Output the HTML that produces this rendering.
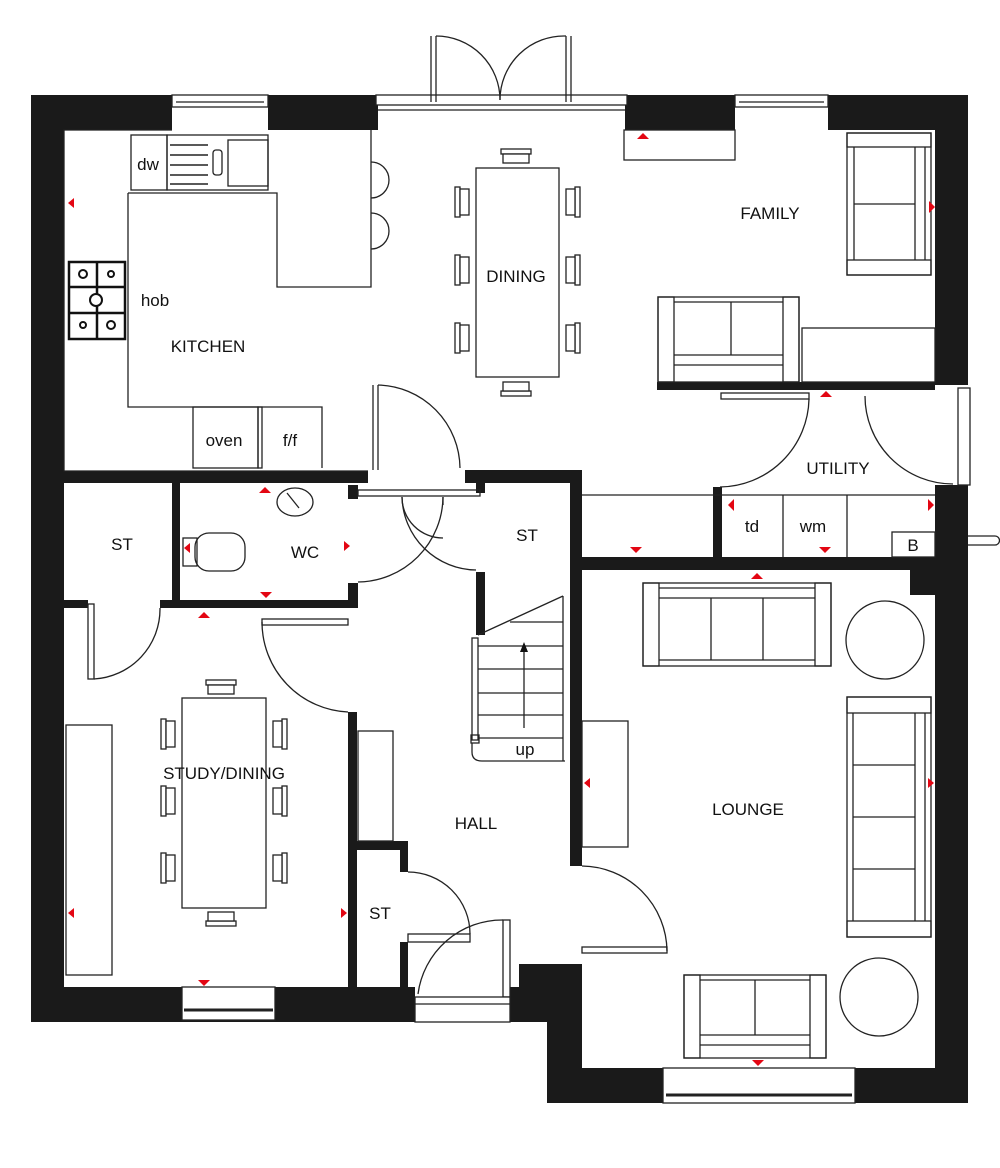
<!DOCTYPE html>
<html><head><meta charset="utf-8"><style>
html,body{margin:0;padding:0;background:#fff}
svg{display:block}
text{font-family:"Liberation Sans",Arial,sans-serif;fill:#111}
</style></head><body>
<svg width="1000" height="1168" viewBox="0 0 1000 1168" xmlns="http://www.w3.org/2000/svg">
<defs>
<g id="chV"><rect x="0" y="0" width="5" height="30" fill="#fff" stroke="#222" stroke-width="1.3"/><rect x="5" y="2" width="9" height="26" fill="#fff" stroke="#222" stroke-width="1.3"/></g>
<g id="chH"><rect x="0" y="0" width="30" height="5" fill="#fff" stroke="#222" stroke-width="1.3"/><rect x="2" y="5" width="26" height="9" fill="#fff" stroke="#222" stroke-width="1.3"/></g>
</defs>
<g fill="#1a1a1a">
<rect x="31" y="95" width="33" height="927"/>
<rect x="31" y="95" width="141" height="35"/>
<rect x="268" y="95" width="110" height="35"/>
<rect x="625" y="95" width="110" height="35"/>
<rect x="828" y="95" width="140" height="35"/>
<rect x="935" y="95" width="33" height="290"/>
<rect x="935" y="485" width="33" height="618"/>
<rect x="910" y="570" width="25" height="25"/>
<rect x="31" y="987" width="384" height="35"/>
<rect x="510" y="987" width="40" height="35"/>
<rect x="519" y="964" width="61" height="58"/>
<rect x="547" y="964" width="35" height="139"/>
<rect x="547" y="1068" width="421" height="35"/>
<rect x="64" y="471" width="304" height="12"/>
<rect x="465" y="470" width="117" height="13"/>
<rect x="570" y="470" width="12" height="396"/>
<rect x="582" y="557" width="353" height="13"/>
<rect x="657" y="382" width="278" height="8"/>
<rect x="713" y="487" width="9" height="72"/>
<rect x="172" y="483" width="8" height="124"/>
<rect x="64" y="600" width="24" height="8"/>
<rect x="160" y="600" width="198" height="8"/>
<rect x="348" y="583" width="10" height="25"/>
<rect x="348" y="485" width="10" height="14"/>
<rect x="476" y="483" width="9" height="10"/>
<rect x="476" y="572" width="9" height="63"/>
<rect x="348" y="712" width="9" height="275"/>
<rect x="357" y="841" width="51" height="9"/>
<rect x="400" y="841" width="8" height="31"/>
<rect x="400" y="942" width="8" height="45"/>
</g>
<g fill="none" stroke="#222" stroke-width="1.3">
<rect x="172" y="95" width="96" height="12" fill="#fff"/><line x1="176" y1="102" x2="264" y2="102"/>
<rect x="735" y="95" width="93" height="12" fill="#fff"/><line x1="739" y1="102" x2="824" y2="102"/>
<rect x="182" y="987" width="93" height="33" fill="#fff"/><line x1="184" y1="1010" x2="273" y2="1010" stroke-width="3"/>
<rect x="663" y="1068" width="192" height="35" fill="#fff"/><line x1="666" y1="1095" x2="852" y2="1095" stroke-width="3"/>
<rect x="958" y="388" width="12" height="97" fill="#fff"/>
<rect x="376" y="95" width="251" height="10" fill="#fff"/>
<line x1="378" y1="110" x2="625" y2="110"/>
<line x1="431" y1="36" x2="431" y2="102"/><line x1="436" y1="36" x2="436" y2="102"/>
<line x1="566" y1="36" x2="566" y2="102"/><line x1="571" y1="36" x2="571" y2="102"/>
<path d="M436,36 A64,64 0 0 1 500,100"/><path d="M566,36 A64,64 0 0 0 500,100"/>
<path d="M172,130 L64,130 L64,471 L368,471"/>
<rect x="131" y="135" width="36" height="55"/>
<rect x="167" y="135" width="101" height="55"/>
<rect x="228" y="140" width="40" height="46"/>
<g stroke-width="1.5"><line x1="170" y1="145" x2="208" y2="145"/><line x1="170" y1="155" x2="208" y2="155"/><line x1="170" y1="165" x2="208" y2="165"/><line x1="170" y1="175" x2="208" y2="175"/><line x1="170" y1="184" x2="208" y2="184"/></g>
<rect x="213" y="150" width="9" height="25" rx="3"/>
<path d="M128,193 L277,193 L277,287 L371,287 L371,130"/>
<path d="M128,193 L128,407 L322,407 L322,468"/>
<rect x="193" y="407" width="65" height="61"/><rect x="258" y="407" width="4" height="61"/>
<path d="M371,162 A18,18 0 0 1 371,198"/><path d="M371,213 A18,18 0 0 1 371,249"/>
<g stroke="#111" stroke-width="2.5"><rect x="69" y="262" width="56" height="77"/><line x1="97" y1="262" x2="97" y2="339"/><line x1="69" y1="287" x2="125" y2="287"/><line x1="69" y1="313" x2="125" y2="313"/></g>
<g stroke="#111" stroke-width="2" fill="#fff"><circle cx="83" cy="274" r="4"/><circle cx="111" cy="274" r="3"/><circle cx="96" cy="300" r="6"/><circle cx="83" cy="325" r="3"/><circle cx="111" cy="325" r="4"/></g>
<line x1="373" y1="385" x2="373" y2="470"/><line x1="378" y1="385" x2="378" y2="470"/>
<path d="M378,385 A84,84 0 0 1 460,468"/>
<rect x="358" y="490" width="122" height="6"/>
<rect x="476" y="168" width="83" height="209" fill="#fff"/>
<use href="#chH" x="501" y="149"/>
<use href="#chH" x="501" y="149" transform="translate(0,545) scale(1,-1)"/>
<use href="#chV" x="455" y="187"/><use href="#chV" x="455" y="255"/><use href="#chV" x="455" y="323"/>
<g transform="translate(1035,0) scale(-1,1)"><use href="#chV" x="455" y="187"/><use href="#chV" x="455" y="255"/><use href="#chV" x="455" y="323"/></g>
<rect x="624" y="130" width="111" height="30"/>
<rect x="847" y="133" width="84" height="142"/>
<rect x="847" y="133" width="84" height="14"/><rect x="847" y="260" width="84" height="15"/>
<line x1="854" y1="147" x2="854" y2="260"/><line x1="915" y1="147" x2="915" y2="260"/><line x1="854" y1="204" x2="915" y2="204"/>
<line x1="925" y1="147" x2="925" y2="260"/>
<rect x="658" y="297" width="141" height="85"/>
<rect x="658" y="297" width="16" height="85"/><rect x="783" y="297" width="16" height="85"/>
<line x1="674" y1="302" x2="783" y2="302"/><line x1="731" y1="302" x2="731" y2="355"/>
<line x1="674" y1="355" x2="783" y2="355"/><line x1="674" y1="365" x2="783" y2="365"/>
<rect x="802" y="328" width="133" height="54"/>
<rect x="721" y="393" width="88" height="6"/>
<path d="M809,399 A90,90 0 0 1 720,487"/>
<path d="M865,396 A88,88 0 0 0 953,484"/>
<line x1="582" y1="495" x2="935" y2="495"/>
<line x1="783" y1="495" x2="783" y2="557"/><line x1="847" y1="495" x2="847" y2="557"/>
<rect x="892" y="532" width="43" height="25"/>
<path d="M968,536 L995,536 A4,4 0 0 1 995,545 L968,545"/>
<path d="M402,497 A41,41 0 0 0 443,538 M443,497 L443,505"/>
<path d="M443,497 A86,86 0 0 1 358,582"/>
<path d="M402,497 A75,75 0 0 0 476,570"/>
<rect x="195" y="533" width="50" height="38" rx="14"/><rect x="183" y="538" width="14" height="28"/>
<ellipse cx="295" cy="502" rx="18" ry="14"/><line x1="287" y1="493" x2="299" y2="508"/>
<rect x="88" y="604" width="6" height="75"/>
<path d="M94,679 A70,70 0 0 0 160,608"/>
<rect x="262" y="619" width="86" height="6"/>
<path d="M262,622 A90,90 0 0 0 348,712"/>
<rect x="66" y="725" width="46" height="250"/>
<rect x="182" y="698" width="84" height="210" fill="#fff"/>
<use href="#chH" x="206" y="680"/>
<g transform="translate(0,1606) scale(1,-1)"><use href="#chH" x="206" y="680"/></g>
<use href="#chV" x="161" y="719"/><use href="#chV" x="161" y="786"/><use href="#chV" x="161" y="853"/>
<g transform="translate(448,0) scale(-1,1)"><use href="#chV" x="161" y="719"/><use href="#chV" x="161" y="786"/><use href="#chV" x="161" y="853"/></g>
<rect x="358" y="731" width="35" height="110"/>
<path d="M408,872 A62,62 0 0 1 470,934"/>
<rect x="408" y="934" width="62" height="8"/>
<rect x="503" y="920" width="7" height="77"/>
<path d="M418,994 A85,85 0 0 1 503,920"/>
<rect x="415" y="997" width="95" height="25" fill="#fff"/><line x1="415" y1="1004" x2="510" y2="1004"/>
<rect x="472" y="638" width="6" height="102"/>
<rect x="471" y="735" width="8" height="8"/>
<line x1="478" y1="635" x2="563" y2="596"/>
<g><line x1="510" y1="622" x2="563" y2="622"/><line x1="478" y1="646" x2="563" y2="646"/><line x1="478" y1="669" x2="563" y2="669"/><line x1="478" y1="693" x2="563" y2="693"/><line x1="478" y1="715" x2="563" y2="715"/><line x1="478" y1="738" x2="563" y2="738"/></g>
<path d="M472,743 L472,752 Q472,761 482,761 L565,761"/>
<line x1="563" y1="596" x2="563" y2="761"/>
<line x1="524" y1="728" x2="524" y2="650"/>
<path d="M582,866 A86,86 0 0 1 667,951"/>
<rect x="582" y="947" width="85" height="6"/>
<rect x="582" y="721" width="46" height="126"/>
<rect x="643" y="583" width="188" height="83"/>
<rect x="643" y="583" width="16" height="83"/><rect x="815" y="583" width="16" height="83"/>
<line x1="659" y1="588" x2="815" y2="588"/><line x1="659" y1="598" x2="815" y2="598"/><line x1="659" y1="660" x2="815" y2="660"/>
<line x1="711" y1="598" x2="711" y2="660"/><line x1="763" y1="598" x2="763" y2="660"/>
<circle cx="885" cy="640" r="39"/><circle cx="879" cy="997" r="39"/>
<rect x="847" y="697" width="84" height="240"/>
<rect x="847" y="697" width="84" height="16"/><rect x="847" y="921" width="84" height="16"/>
<line x1="853" y1="713" x2="853" y2="921"/><line x1="915" y1="713" x2="915" y2="921"/><line x1="925" y1="713" x2="925" y2="921"/>
<line x1="853" y1="765" x2="915" y2="765"/><line x1="853" y1="817" x2="915" y2="817"/><line x1="853" y1="869" x2="915" y2="869"/>
<rect x="684" y="975" width="142" height="83"/>
<rect x="684" y="975" width="16" height="83"/><rect x="810" y="975" width="16" height="83"/>
<line x1="700" y1="980" x2="810" y2="980"/><line x1="755" y1="980" x2="755" y2="1035"/>
<line x1="700" y1="1035" x2="810" y2="1035"/><line x1="700" y1="1045" x2="810" y2="1045"/>
</g>
<polygon points="524,642 520,652 528,652" fill="#111"/>
<g fill="#e30613">
<polygon points="68,203 74,198 74,208"/>
<polygon points="643,133 637,139 649,139"/>
<polygon points="935,207 929,201 929,213"/>
<polygon points="826,391 820,397 832,397"/>
<polygon points="728,505 734,499 734,511"/>
<polygon points="934,505 928,499 928,511"/>
<polygon points="636,553 630,547 642,547"/>
<polygon points="825,553 819,547 831,547"/>
<polygon points="757,573 751,579 763,579"/>
<polygon points="265,487 259,493 271,493"/>
<polygon points="184,548 190,543 190,553"/>
<polygon points="350,546 344,541 344,551"/>
<polygon points="266,598 260,592 272,592"/>
<polygon points="204,612 198,618 210,618"/>
<polygon points="584,783 590,778 590,788"/>
<polygon points="934,783 928,778 928,788"/>
<polygon points="68,913 74,908 74,918"/>
<polygon points="347,913 341,908 341,918"/>
<polygon points="204,986 198,980 210,980"/>
<polygon points="758,1066 752,1060 764,1060"/>
</g>
<g font-size="17" text-anchor="middle">
<text x="208" y="352">KITCHEN</text>
<text x="155" y="306">hob</text>
<text x="148" y="170">dw</text>
<text x="224" y="446">oven</text>
<text x="290" y="446">f/f</text>
<text x="516" y="282">DINING</text>
<text x="770" y="219">FAMILY</text>
<text x="838" y="474">UTILITY</text>
<text x="752" y="532">td</text>
<text x="813" y="532">wm</text>
<text x="913" y="551">B</text>
<text x="122" y="550">ST</text>
<text x="305" y="558">WC</text>
<text x="527" y="541">ST</text>
<text x="525" y="755">up</text>
<text x="224" y="779">STUDY/DINING</text>
<text x="476" y="829">HALL</text>
<text x="748" y="815">LOUNGE</text>
<text x="380" y="919">ST</text>
</g>
</svg>
</body></html>
